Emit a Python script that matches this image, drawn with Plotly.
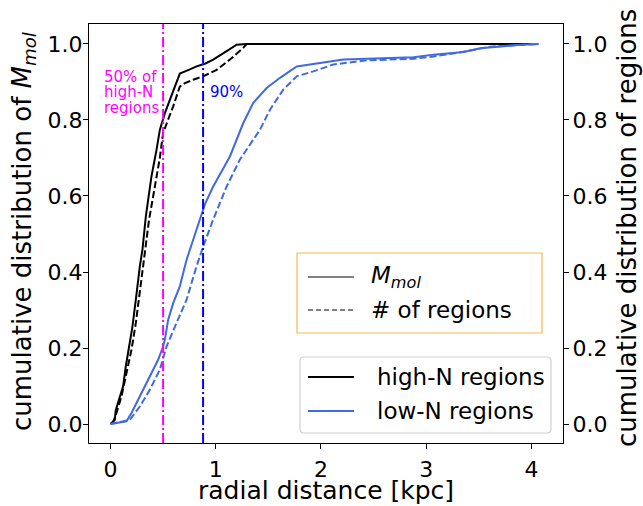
import plotly.graph_objects as go

# Cumulative distributions vs. radial distance [kpc]
high_mmol_x = [0, 0.041, 0.05, 0.095, 0.12, 0.146, 0.177, 0.209, 0.241, 0.263, 0.279, 0.304, 0.317,
               0.336, 0.358, 0.39, 0.438, 0.469, 0.517, 0.564, 0.612, 0.659, 0.755, 0.818, 0.897,
               0.976, 1.104, 1.199, 1.294, 4.0]
high_mmol_y = [0, 0.011, 0.036, 0.077, 0.099, 0.152, 0.204, 0.257, 0.327, 0.388, 0.415, 0.459, 0.503,
               0.546, 0.590, 0.652, 0.722, 0.774, 0.818, 0.853, 0.888, 0.922, 0.933, 0.941, 0.948,
               0.959, 0.981, 0.998, 1.0, 1.0]

high_nreg_x = [0.02, 0.057, 0.105, 0.152, 0.2, 0.241, 0.279, 0.31, 0.336, 0.367, 0.40, 0.438, 0.469,
               0.5, 0.548, 0.596, 0.659, 0.707, 0.786, 0.881, 1.009, 1.135, 1.262, 1.294, 4.0]
high_nreg_y = [0, 0.029, 0.073, 0.134, 0.196, 0.266, 0.345, 0.415, 0.476, 0.538, 0.59, 0.65, 0.70,
               0.766, 0.801, 0.836, 0.888, 0.897, 0.906, 0.915, 0.932, 0.959, 0.99, 1.0, 1.0]

low_mmol_x = [0, 0.152, 0.2, 0.279, 0.374, 0.453, 0.495, 0.517, 0.548, 0.596, 0.659, 0.723, 0.786,
              0.85, 0.897, 0.976, 1.135, 1.262, 1.357, 1.484, 1.611, 1.77, 1.928, 2.055, 2.213,
              2.436, 2.879, 3.07, 3.355, 3.514, 3.704, 3.894, 4.069]
low_mmol_y = [0, 0.007, 0.029, 0.073, 0.125, 0.169, 0.2, 0.222, 0.274, 0.318, 0.362, 0.432, 0.485,
              0.54, 0.578, 0.625, 0.704, 0.792, 0.845, 0.884, 0.911, 0.941, 0.948, 0.954, 0.959,
              0.961, 0.965, 0.972, 0.979, 0.989, 0.994, 0.998, 1.0]

low_nreg_x = [0, 0.184, 0.279, 0.374, 0.469, 0.533, 0.628, 0.723, 0.818, 0.881, 0.976, 1.104, 1.23,
              1.325, 1.42, 1.516, 1.642, 1.77, 1.928, 2.118, 2.436, 2.879, 3.07, 3.387, 3.609, 4.069]
low_nreg_y = [0, 0.011, 0.046, 0.09, 0.143, 0.204, 0.266, 0.327, 0.415, 0.467, 0.538, 0.625, 0.696,
              0.735, 0.774, 0.827, 0.88, 0.915, 0.928, 0.946, 0.957, 0.961, 0.967, 0.981, 0.993, 1.0]

# Radii enclosing 50% / 90% of high-N regions
r50 = 0.50
r90 = 0.88

x_ticks = [0, 1, 2, 3, 4]
y_ticks = [0.0, 0.2, 0.4, 0.6, 0.8, 1.0]

BLACK = "black"
BLUE = "#4169E1"
FONT = "DejaVu Sans"

W, H = 643, 506
ML, MR, MT, MB = 89, 80, 24, 63
PW, PH = W - ML - MR, H - MT - MB


def px(x):
    return (x - ML) / PW


def py(y):
    return (H - MB - y) / PH


fig = go.Figure()

curves = [
    (high_mmol_x, high_mmol_y, BLACK, "solid"),
    (high_nreg_x, high_nreg_y, BLACK, "7px,3px"),
    (low_mmol_x, low_mmol_y, BLUE, "solid"),
    (low_nreg_x, low_nreg_y, BLUE, "7px,3px"),
]
for xs, ys, col, dash in curves:
    fig.add_trace(go.Scatter(x=xs, y=ys, mode="lines", showlegend=False,
                             line=dict(color=col, width=2, dash=dash)))

# invisible trace to carry the right-hand axis
fig.add_trace(go.Scatter(x=[None], y=[None], yaxis="y2", showlegend=False))

fig.add_vline(x=r50, line=dict(color="#FF00FF", width=2, dash="10px,3px,2px,3px"))
fig.add_vline(x=r90, line=dict(color="#0000FF", width=2, dash="10px,3px,2px,3px"))

# labels next to the vertical markers
for txt, yv in [("50% of", 0.914), ("high-N", 0.873), ("regions", 0.832)]:
    fig.add_annotation(x=-0.078, y=yv, xref="x", yref="y", text=txt, showarrow=False,
                       xanchor="left", yanchor="middle",
                       font=dict(family=FONT, size=15, color="#FF00FF"))
fig.add_annotation(x=r90 + 0.05, y=0.873, xref="x", yref="y", text="90%", showarrow=False,
                   xanchor="left", yanchor="middle",
                   font=dict(family=FONT, size=15, color="#0000FF"))


def rounded_box(x0, y0, x1, y1, r=4):
    # rounded rectangle in paper coords, corners given in pixels
    rx, ry = r / PW, r / PH
    a0, a1 = px(x0), px(x1)
    b0, b1 = py(y1), py(y0)
    return (f"M{a0 + rx},{b0} L{a1 - rx},{b0} Q{a1},{b0} {a1},{b0 + ry} "
            f"L{a1},{b1 - ry} Q{a1},{b1} {a1 - rx},{b1} L{a0 + rx},{b1} "
            f"Q{a0},{b1} {a0},{b1 - ry} L{a0},{b0 + ry} Q{a0},{b0} {a0 + rx},{b0} Z")


shapes = []
# line-style legend (orange frame)
shapes.append(dict(type="rect", xref="paper", yref="paper", x0=px(297), x1=px(542),
                   y0=py(333), y1=py(253), line=dict(color="#F7B850", width=1.2),
                   fillcolor="white", layer="above"))
# sample legend (grey rounded frame)
shapes.append(dict(type="path", xref="paper", yref="paper", path=rounded_box(300, 357, 551, 433),
                   line=dict(color="#D0D0D0", width=1.2), fillcolor="rgba(255,255,255,0.85)",
                   layer="above"))

legend_rows = [
    (277, "gray", "solid", "<i>M</i><sub><i>mol</i></sub>", 369),
    (310, "gray", "5px,3px", "# of regions", 369),
    (377, BLACK, "solid", "high-N regions", 375),
    (411, BLUE, "solid", "low-N regions", 375),
]
for yy, col, dash, label, tx in legend_rows:
    shapes.append(dict(type="line", xref="paper", yref="paper", x0=px(308), x1=px(354),
                       y0=py(yy), y1=py(yy), line=dict(color=col, width=2, dash=dash),
                       layer="above"))
    fig.add_annotation(x=px(tx), y=py(yy), xref="paper", yref="paper", text=label,
                       showarrow=False, xanchor="left", yanchor="middle",
                       font=dict(family=FONT, size=23, color="black"))

for s in shapes:
    fig.add_shape(**s)

# axis titles
TITLE_FONT = dict(family=FONT, size=26, color="black")
fig.add_annotation(x=px(326), y=py(506), xref="paper", yref="paper",
                   text="radial distance [kpc]", showarrow=False,
                   xanchor="center", yanchor="bottom", borderpad=0,
                   font=dict(family=FONT, size=25, color="black"))
fig.add_annotation(x=px(23), y=py(232), xref="paper", yref="paper",
                   text="cumulative distribution of <i>M</i><sub><i>mol</i></sub>",
                   textangle=-90, showarrow=False, xanchor="center", yanchor="middle",
                   font=TITLE_FONT)
fig.add_annotation(x=px(627), y=py(228), xref="paper", yref="paper",
                   text="cumulative distribution of regions",
                   textangle=-90, showarrow=False, xanchor="center", yanchor="middle",
                   font=TITLE_FONT)

axis_common = dict(
    showgrid=False, zeroline=False, showline=True, linecolor="black", linewidth=1.2,
    ticks="outside", ticklen=5, tickwidth=1.2, tickcolor="black",
    tickfont=dict(family=FONT, size=22, color="black"),
)

fig.update_layout(
    width=W, height=H,
    margin=dict(l=ML, r=MR, t=MT, b=MB, pad=0),
    paper_bgcolor="white", plot_bgcolor="white",
    showlegend=False,
    font=dict(family=FONT, color="black"),
    xaxis=dict(range=[-0.204, 4.30], tickvals=x_ticks, ticktext=[str(t) for t in x_ticks],
               mirror=True, ticklabelstandoff=1, **axis_common),
    yaxis=dict(range=[-0.05, 1.0526], tickvals=y_ticks, ticktext=[f"{t:.1f}" for t in y_ticks],
               ticklabelstandoff=-4, **axis_common),
    yaxis2=dict(range=[-0.05, 1.0526], tickvals=y_ticks, ticktext=[f"{t:.1f}" for t in y_ticks],
                overlaying="y", side="right", ticklabelstandoff=-1, **axis_common),
)

fig.write_html("out.html")
